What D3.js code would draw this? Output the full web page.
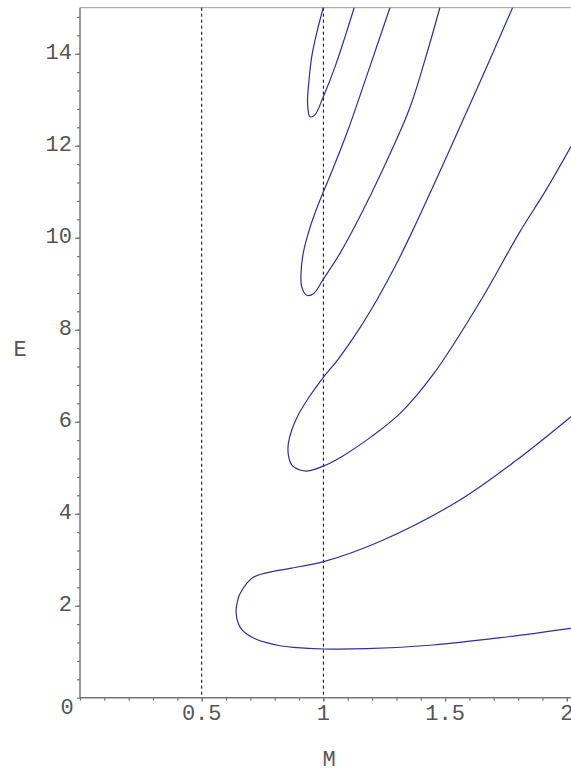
<!DOCTYPE html>
<html>
<head>
<meta charset="utf-8">
<script src="https://cdn.jsdelivr.net/npm/d3@7"></script>
<style>
  html, body { margin: 0; padding: 0; background: #fff; }
  svg { display: block; }
  text { font-family: "Liberation Mono", "DejaVu Sans Mono", monospace; fill: #555; }
</style>
</head>
<body>
<script>
// ---- data (M, E) ----
const branch1 = [
  [2.017,1.509],[1.726,1.304],[1.452,1.146],[1.178,1.065],[1.001,1.059],
  [0.876,1.096],[0.822,1.130],[0.767,1.196],[0.719,1.283],[0.685,1.385],
  [0.664,1.487],[0.650,1.617],[0.641,1.870],[0.644,2.015],[0.652,2.196],
  [0.666,2.341],[0.685,2.487],[0.712,2.617],[0.747,2.689],[0.788,2.739],
  [0.863,2.813],[1.001,2.957],[1.246,3.428],[1.561,4.298],[1.794,5.167],
  [2.017,6.109]
];
const branch2 = [
  [1.778,15.01],[1.638,13.32],[1.500,11.69],[1.368,10.17],[1.298,9.41],
  [1.220,8.65],[1.144,7.99],[1.058,7.34],[1.002,6.98],[0.938,6.51],
  [0.897,6.15],[0.870,5.82],[0.856,5.53],[0.856,5.28],[0.870,5.06],
  [0.904,4.95],[0.938,4.93],[1.002,5.04],[1.075,5.24],[1.196,5.67],
  [1.315,6.18],[1.454,7.05],[1.648,8.65],[1.804,10.10],[1.915,11.04],
  [2.017,11.98]
];
const branch3 = [
  [1.274,15.01],[1.191,13.72],[1.101,12.34],[1.037,11.47],[1.000,11.00],
  [0.965,10.53],[0.938,10.10],[0.917,9.66],[0.908,9.23],[0.911,8.93],
  [0.931,8.75],[0.959,8.78],[1.000,9.10],[1.068,9.66],[1.150,10.46],
  [1.243,11.47],[1.352,12.78],[1.417,13.86],[1.479,15.01]
];
const branch4 = [
  [1.000,15.01],[0.972,14.44],[0.952,13.93],[0.941,13.43],[0.935,12.92],
  [0.945,12.63],[0.965,12.67],[1.000,13.07],[1.048,13.72],[1.089,14.37],
  [1.127,15.01]
];
const branches = [branch1, branch2, branch3, branch4];
const refLines = [0.5, 1];
const xTickValues = [0.5, 1, 1.5, 2];
const xTickLabels = ["0.5", "1", "1.5", "2"];
const yTickValues = [2, 4, 6, 8, 10, 12, 14];
const yTickLabels = ["2", "4", "6", "8", "10", "12", "14"];
const xMinor = d3.range(0, 21).map(i => i / 10);
const yMinor = d3.range(0, 38).map(i => +(i * 0.4).toFixed(1));
const xTitle = "M", yTitle = "E", originLabel = "0";

// ---- layout ----
const W = 571, H = 774;
const x = d3.scaleLinear().domain([0, 2]).range([80, 566.8]);
const y = d3.scaleLinear().domain([0, 15]).range([697.7, 7.7]);

const svg = d3.select("body").append("svg").attr("width", W).attr("height", H);

svg.append("clipPath").attr("id", "clip").append("rect")
  .attr("x", x(0)).attr("y", y(15)).attr("width", W - x(0)).attr("height", y(0) - y(15));

// top border
svg.append("line").attr("x1", x(0)).attr("x2", W).attr("y1", y(15)).attr("y2", y(15))
  .attr("stroke", "#999").attr("stroke-width", 1);

// dashed reference lines
svg.selectAll("line.ref").data(refLines).join("line").attr("class", "ref")
  .attr("x1", d => x(d)).attr("x2", d => x(d))
  .attr("y1", y(15)).attr("y2", y(0))
  .attr("stroke", "#000").attr("stroke-width", 1).attr("stroke-dasharray", "3,3");

// curves
const line = d3.line().x(d => x(d[0])).y(d => y(d[1])).curve(d3.curveCatmullRom.alpha(0.5));
svg.append("g").attr("clip-path", "url(#clip)")
  .selectAll("path").data(branches).join("path")
  .attr("d", line).attr("fill", "none")
  .attr("stroke", "#2e2e9a").attr("stroke-width", 1.2);

// axes
const axisColor = "#777";
const gx = svg.append("g").attr("transform", `translate(0,${y(0)})`);
gx.call(d3.axisBottom(x).tickValues(xMinor).tickSize(3).tickFormat(""));
gx.call(g => g.select(".domain").remove());
const gx2 = svg.append("g").attr("transform", `translate(0,${y(0)})`);
gx2.call(d3.axisBottom(x).tickValues(xTickValues).tickSize(4).tickFormat(""));
gx2.call(g => g.select(".domain").remove());
const gy = svg.append("g").attr("transform", `translate(${x(0)},0)`);
gy.call(d3.axisLeft(y).tickValues(yMinor).tickSize(3).tickFormat(""));
gy.call(g => g.select(".domain").remove());
const gy2 = svg.append("g").attr("transform", `translate(${x(0)},0)`);
gy2.call(d3.axisLeft(y).tickValues(yTickValues).tickSize(5).tickFormat(""));
gy2.call(g => g.select(".domain").remove());
svg.selectAll(".tick line").attr("stroke", axisColor).attr("stroke-width", 1.2);

// axis lines
svg.append("line").attr("x1", x(0)).attr("x2", W).attr("y1", y(0)).attr("y2", y(0))
  .attr("stroke", axisColor).attr("stroke-width", 1.5);
svg.append("line").attr("x1", x(0)).attr("x2", x(0)).attr("y1", y(15)).attr("y2", y(0))
  .attr("stroke", axisColor).attr("stroke-width", 1.5);

// tick labels
const fs = 22;
svg.selectAll("text.xl").data(xTickValues).join("text").attr("class", "xl")
  .attr("x", d => x(d)).attr("y", 714).attr("dominant-baseline", "central")
  .attr("text-anchor", "middle").attr("font-size", fs)
  .text((d, i) => xTickLabels[i]);
svg.selectAll("text.yl").data(yTickValues).join("text").attr("class", "yl")
  .attr("x", 72).attr("y", d => y(d)).attr("dominant-baseline", "central")
  .attr("text-anchor", "end").attr("font-size", fs)
  .text((d, i) => yTickLabels[i]);
svg.append("text").attr("x", 67).attr("y", 708).attr("dominant-baseline", "central")
  .attr("text-anchor", "middle").attr("font-size", fs).text(originLabel);

// axis titles
svg.append("text").attr("x", 329).attr("y", 760).attr("dominant-baseline", "central")
  .attr("text-anchor", "middle").attr("font-size", fs).text(xTitle);
svg.append("text").attr("x", 20).attr("y", 350).attr("dominant-baseline", "central")
  .attr("text-anchor", "middle").attr("font-size", fs).text(yTitle);
</script>
</body>
</html>
